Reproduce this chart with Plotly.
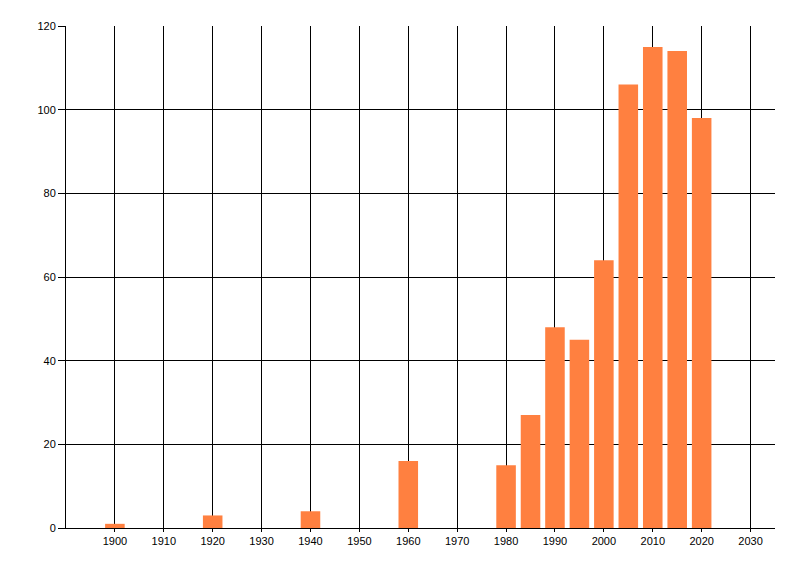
import plotly.graph_objects as go

years = [1900, 1920, 1940, 1960, 1980, 1985, 1990, 1995, 2000, 2005, 2010, 2015, 2020]
counts = [1, 3, 4, 16, 15, 27, 48, 45, 64, 106, 115, 114, 98]
x_ticks = list(range(1900, 2031, 10))
y_ticks = list(range(0, 121, 20))

fig = go.Figure(go.Bar(
    x=years, y=counts, width=4,
    marker=dict(color="rgb(255,128,64)", line=dict(width=0)),
))

fig.update_layout(
    width=800, height=576,
    margin=dict(l=66, r=25, t=26, b=48),
    paper_bgcolor="white", plot_bgcolor="white",
    font=dict(family="Liberation Sans", size=11, color="black"),
    showlegend=False,
)
fig.update_xaxes(
    range=[1890, 2035], tickvals=x_ticks, ticktext=[str(v) for v in x_ticks],
    showgrid=True, gridcolor="black", gridwidth=1,
    showline=True, linecolor="black", linewidth=1,
    ticks="outside", ticklen=3, tickcolor="black",
    zeroline=False, tickfont=dict(size=11),
)
fig.update_yaxes(
    range=[0, 120], tickvals=y_ticks,
    showgrid=True, gridcolor="black", gridwidth=1,
    showline=True, linecolor="black", linewidth=1,
    ticks="outside", ticklen=7, tickcolor="black",
    zeroline=False, tickfont=dict(size=11),
)
fig.write_html("out.html", config={"displayModeBar": False},
               post_script="document.body.style.margin='0';")
